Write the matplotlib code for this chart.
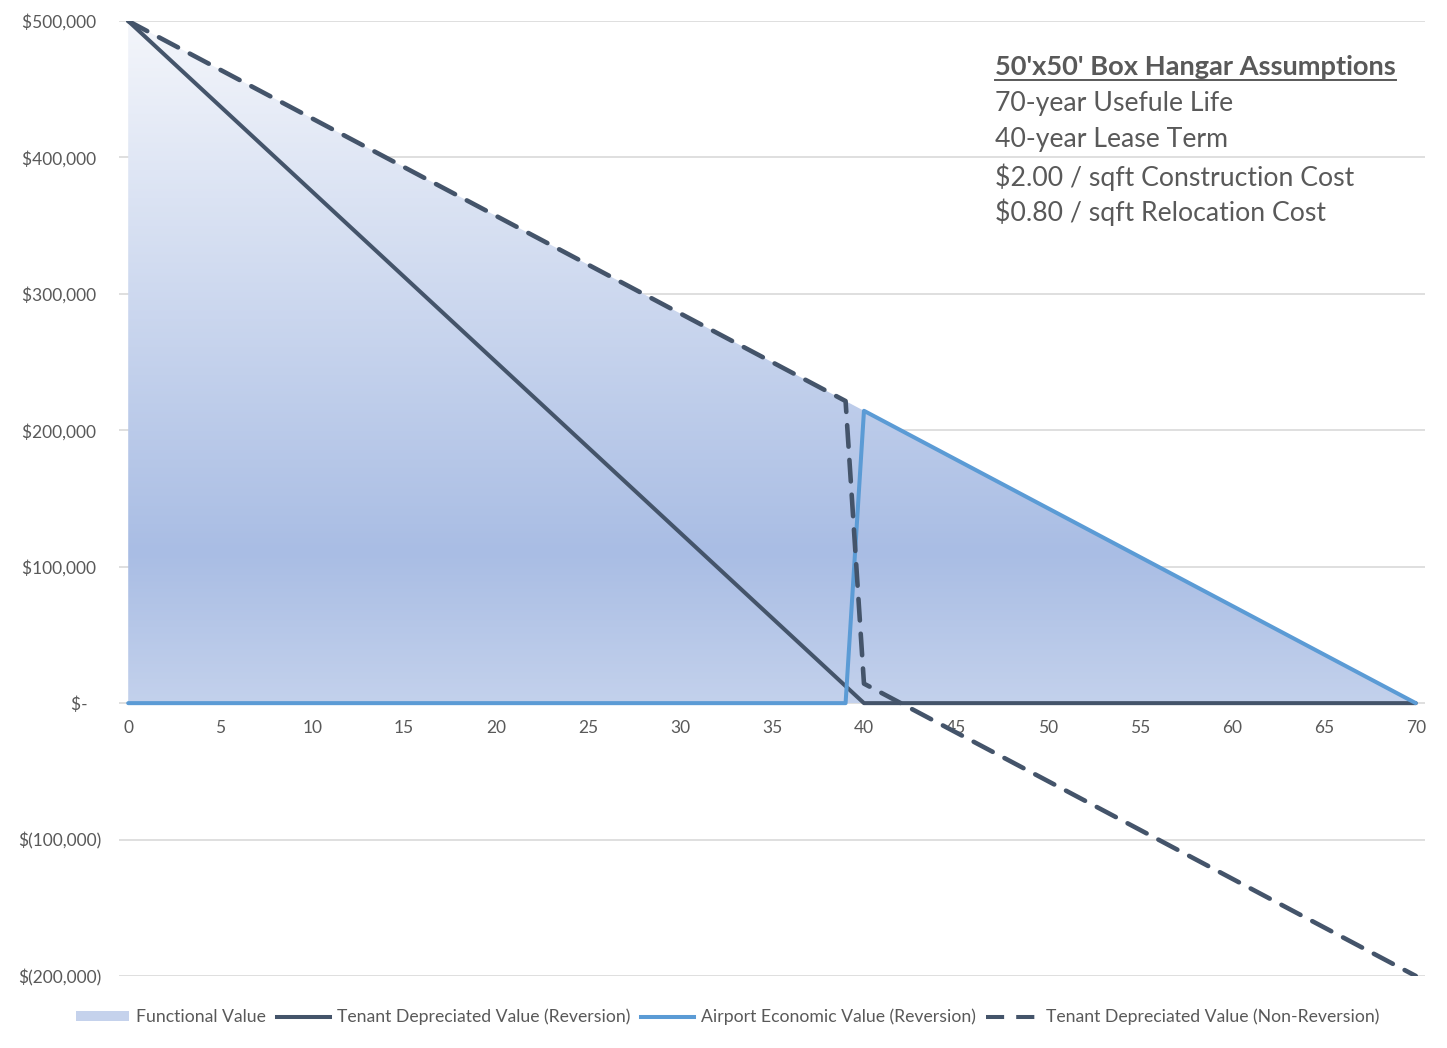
import numpy as np
import matplotlib
matplotlib.use("Agg")
import matplotlib.pyplot as plt
from matplotlib.colors import LinearSegmentedColormap
from matplotlib.patches import Polygon, Patch
from matplotlib.lines import Line2D
from matplotlib.ticker import FuncFormatter, MultipleLocator

plt.rcParams['font.family'] = ['Lato', 'DejaVu Sans']

# breakpoints of each series (year, value)
functional_years = [0, 70]
functional_value = [500000, 0]

tenant_rev_years = [0, 39, 40, 70]
tenant_rev_value = [500000, 12500, 0, 0]

airport_years = [0, 39, 40, 70]
airport_value = [0, 0, 214286, 0]

tenant_nonrev_years = [0, 39, 40, 70]
tenant_nonrev_value = [500000, 221429, 14286, -200000]

assumptions_title = "50'x50' Box Hangar Assumptions"
assumptions = ["70-year Usefule Life", "40-year Lease Term",
               "$2.00 / sqft Construction Cost", "$0.80 / sqft Relocation Cost"]

legend_labels = ["Functional Value", "Tenant Depreciated Value (Reversion)",
                 "Airport Economic Value (Reversion)", "Tenant Depreciated Value (Non-Reversion)"]

dark = '#44546A'
blue = '#5B9BD5'
grey_txt = '#595959'

fig = plt.figure(figsize=(14.47, 10.48), dpi=100)
ax = fig.add_axes([119/1447, 1-976/1048, 1306/1447, 955/1048])

# gradient area for functional value
cmap = LinearSegmentedColormap.from_list('fv', [(0.0, '#C3D1EC'), (0.22, '#A9BDE4'), (1.0, '#F4F6FB')])
grad = np.linspace(0, 1, 256).reshape(-1, 1)
verts = list(zip(functional_years, functional_value)) + [(functional_years[-1], 0), (functional_years[0], 0)]
poly = Polygon(verts, closed=True, facecolor='none', edgecolor='none')
ax.add_patch(poly)
im = ax.imshow(grad, cmap=cmap, origin='lower', aspect='auto',
               extent=[functional_years[0], functional_years[-1], 0, max(functional_value)], zorder=1)
im.set_clip_path(poly)
ax.set_xlim(-0.5, 70.5)
ax.set_ylim(-200000, 500000)

ax.plot(tenant_rev_years, tenant_rev_value, color=dark, lw=2.9, zorder=3, solid_capstyle='round')
ax.plot(airport_years, airport_value, color=blue, lw=2.9, zorder=4, solid_capstyle='round')
ax.plot(tenant_nonrev_years, tenant_nonrev_value, color=dark, lw=3.3, zorder=5,
        dashes=(4.7, 2.9), dash_capstyle='round')

# axes styling
for s in ax.spines.values():
    s.set_visible(False)
ax.yaxis.set_major_locator(MultipleLocator(100000))
ax.xaxis.set_major_locator(MultipleLocator(5))
ax.grid(axis='y', color='#D9D9D9', lw=1.2, zorder=0)
ax.set_axisbelow(True)

def money(v, pos):
    if v == 0:
        return '$-   '
    if v < 0:
        return f'$({-v:,.0f})'
    return f'${v:,.0f} '

ax.yaxis.set_major_formatter(FuncFormatter(money))
ax.spines['bottom'].set_position(('data', 0))
ax.tick_params(axis='both', length=0, colors=grey_txt, labelsize=12.5)
ax.tick_params(axis='x', pad=12)
ax.tick_params(axis='y', pad=13)

# assumptions text
x0 = (995 - 119) / 1306
ys = [67, 103, 140, 177, 212]
t = ax.text(x0, (976 - ys[0]) / 955, assumptions_title, transform=ax.transAxes,
            fontsize=19.6, fontweight='bold', color=grey_txt, va='center', ha='left')
for txt, yy in zip(assumptions, ys[1:]):
    ax.text(x0, (976 - yy) / 955, txt, transform=ax.transAxes,
            fontsize=19.2, color=grey_txt, va='center', ha='left')

fig.canvas.draw()
bb = t.get_window_extent()
uy = bb.y0 - 1
fig.add_artist(Line2D([bb.x0 / fig.bbox.width, bb.x1 / fig.bbox.width],
                      [uy / fig.bbox.height, uy / fig.bbox.height],
                      color=grey_txt, lw=1.4))

handles = [Patch(facecolor='#C5D2EC', edgecolor='none'),
           Line2D([], [], color=dark, lw=2.9),
           Line2D([], [], color=blue, lw=2.9),
           Line2D([], [], color=dark, lw=2.9, dashes=(4.5, 3.0))]
fig.legend(handles, legend_labels, loc='center', bbox_to_anchor=(728/1447, 1-1017/1048),
           ncol=4, frameon=False, fontsize=12.7, handlelength=3.0, handleheight=0.45,
           columnspacing=0.6, handletextpad=0.4, labelcolor=grey_txt)

fig.savefig('out.png', dpi=100)
